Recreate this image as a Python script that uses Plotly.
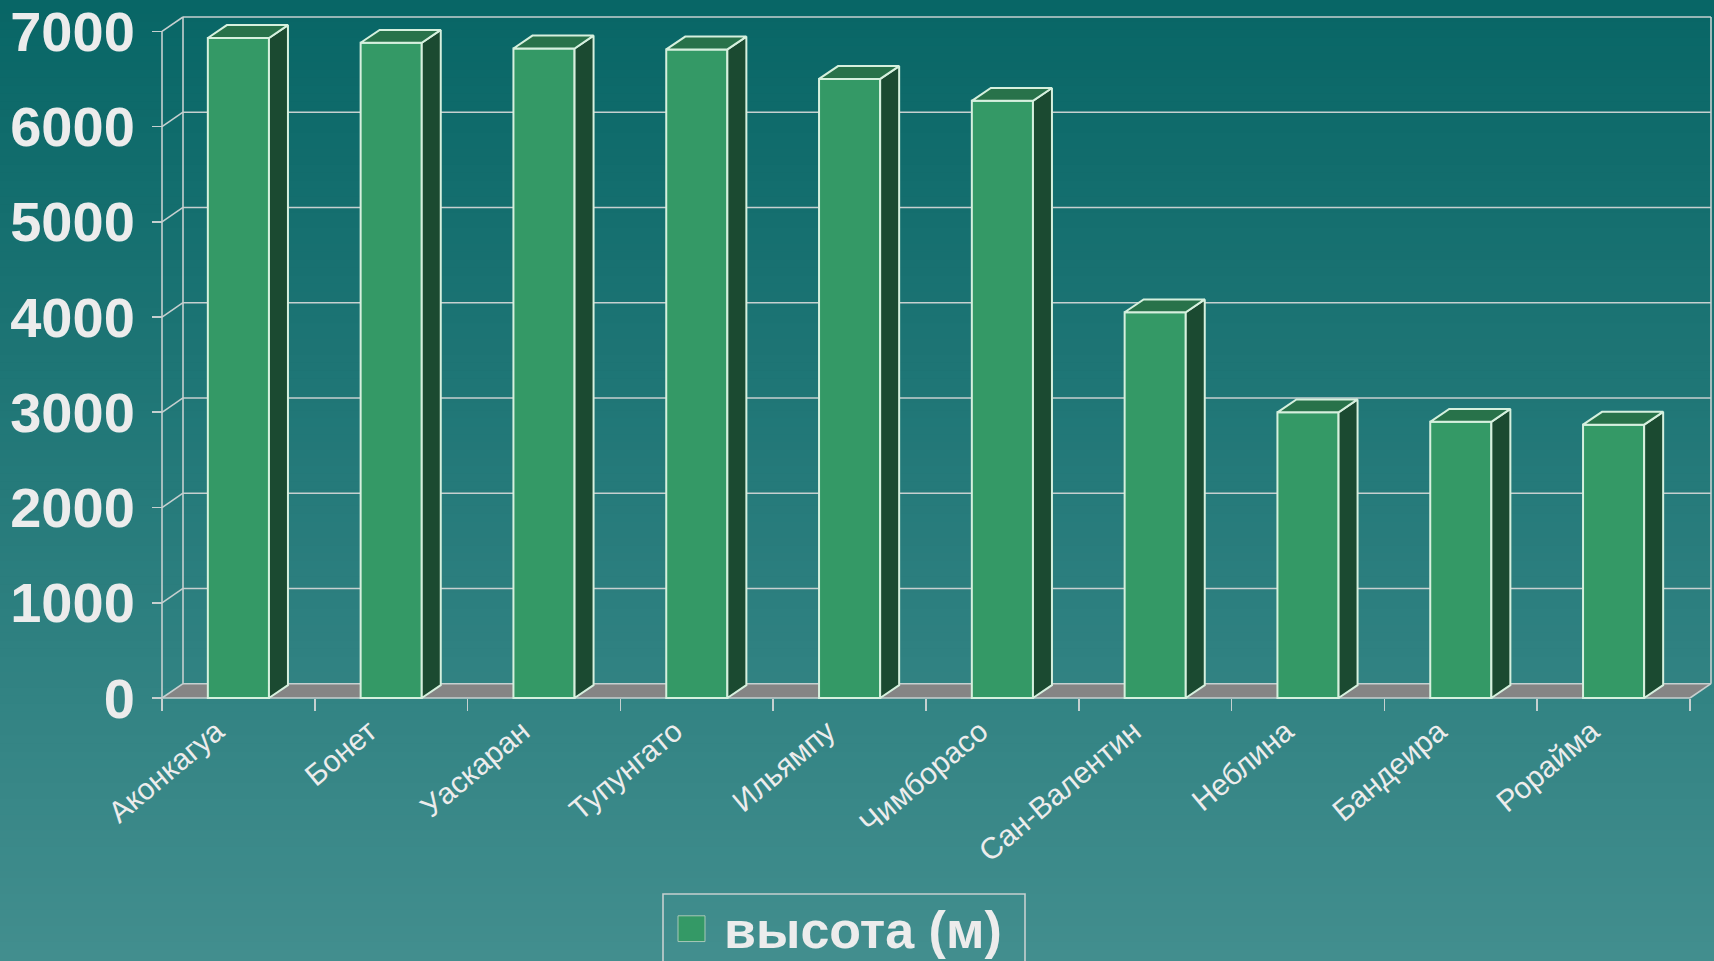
import plotly.graph_objects as go

# ---------------- data ----------------
peaks = ["Аконкагуа", "Бонет", "Уаскаран", "Тупунгато", "Ильямпу",
         "Чимборасо", "Сан-Валентин", "Неблина", "Бандеира", "Рорайма"]
heights = [6930, 6880, 6820, 6810, 6500, 6270, 4050, 3000, 2900, 2870]
y_ticks = [0, 1000, 2000, 3000, 4000, 5000, 6000, 7000]
series_name = "высота (м)"

# ---------------- geometry / style ----------------
W, H = 1714, 961
PAD = 3                       # px padding around the 3D box inside plot area
L, R, T, B = 162 - PAD, 0, 10 - PAD, 263 - PAD
plot_w = W - L - R
plot_h = H - T - B

n = len(peaks)
ymax = y_ticks[-1]
wall_dx_px, wall_dy_px = 21, 14.5
bar_dx_px, bar_dy_px = 19, 13

ux = (plot_w - 2 * PAD - wall_dx_px) / n        # px per category
uy = (plot_h - 2 * PAD - wall_dy_px) / ymax     # px per unit value
xpad, ypad = PAD / ux, PAD / uy
wdx, wdy = wall_dx_px / ux, wall_dy_px / uy
bdx, bdy = bar_dx_px / ux, bar_dy_px / uy
x_range = [-xpad, n + wdx + xpad]
y_range = [-ypad, ymax + wdy + ypad]
label_shift = 22 / ux          # rotated labels end slightly left of centre

FONT = "Liberation Sans, Arial, sans-serif"
TXT = "#ececec"
WALL_LINE = "#c6d0d0"
BAR_LINE = "#d6f0de"
FRONT = "#349966"
SIDE = "#1b4a31"
TOP = "#28724a"
FLOOR = "#858585"


def xp(px):
    return (px - L) / plot_w


def yp(py):
    return (H - B - py) / plot_h


shapes = []

# background vertical gradient
top_c = (8, 102, 102)
bot_c = (66, 142, 142)
bands = 120
for k in range(bands):
    t = (k + 0.5) / bands
    c = tuple(round(a + (b - a) * t) for a, b in zip(top_c, bot_c))
    y0 = H * k / bands - (12 if k == 0 else 1)
    y1 = H * (k + 1) / bands + (12 if k == bands - 1 else 1)
    shapes.append(dict(type="rect", xref="paper", yref="paper",
                       x0=xp(-12), x1=xp(W + 12), y0=yp(y1), y1=yp(y0),
                       fillcolor="rgb(%d,%d,%d)" % c, line=dict(width=0),
                       layer="below"))


def path(pts):
    return "M " + " L ".join("%.5f,%.5f" % p for p in pts) + " Z"


def seg(x0, y0, x1, y1, color=WALL_LINE, w=1.6):
    shapes.append(dict(type="line", xref="x", yref="y", x0=x0, y0=y0,
                       x1=x1, y1=y1, line=dict(color=color, width=w),
                       layer="below"))


# floor
shapes.append(dict(type="path", xref="x", yref="y",
                   path=path([(0, 0), (n, 0), (n + wdx, wdy), (wdx, wdy)]),
                   fillcolor=FLOOR, line=dict(width=0), layer="below"))
# back wall gridlines and side connectors
for v in y_ticks:
    seg(wdx, v + wdy, n + wdx, v + wdy)
    seg(0, v, wdx, v + wdy)
# back wall verticals
seg(wdx, wdy, wdx, ymax + wdy)
seg(n + wdx, wdy, n + wdx, ymax + wdy)
# front edges
seg(0, 0, 0, ymax)
seg(0, 0, n, 0)
seg(n, 0, n + wdx, wdy)

# ---------------- traces ----------------
centers = [i + 0.5 for i in range(n)]
hw = 0.2
fig = go.Figure()
fig.add_trace(go.Bar(x=centers, y=heights, width=2 * hw, name=series_name,
                     marker=dict(color=FRONT, line=dict(color=BAR_LINE, width=2)),
                     showlegend=False, hoverinfo="skip"))
for xc, v in zip(centers, heights):
    side = [(xc + hw, 0), (xc + hw + bdx, bdy), (xc + hw + bdx, v + bdy),
            (xc + hw, v), (xc + hw, 0)]
    top = [(xc - hw, v), (xc - hw + bdx, v + bdy), (xc + hw + bdx, v + bdy),
           (xc + hw, v), (xc - hw, v)]
    for pts, col in ((side, SIDE), (top, TOP)):
        fig.add_trace(go.Scatter(x=[p[0] for p in pts], y=[p[1] for p in pts],
                                 mode="lines", fill="toself", fillcolor=col,
                                 line=dict(color=BAR_LINE, width=2),
                                 showlegend=False, hoverinfo="skip"))
# invisible trace to host tick-mark axis
fig.add_trace(go.Scatter(x=[0], y=[0], xaxis="x2", mode="markers",
                         marker=dict(opacity=0), showlegend=False,
                         hoverinfo="skip"))

# ---------------- manual legend ----------------
shapes.append(dict(type="rect", xref="paper", yref="paper",
                   x0=xp(663), x1=xp(1025), y0=yp(975), y1=yp(896),
                   line=dict(color=WALL_LINE, width=1.6), fillcolor="rgba(0,0,0,0)"))
shapes.append(dict(type="rect", xref="paper", yref="paper",
                   x0=xp(678), x1=xp(705), y0=yp(944), y1=yp(918),
                   line=dict(color="#a8c8b8", width=1), fillcolor=FRONT))

annotations = [dict(text=series_name, xref="paper", yref="paper",
                    x=xp(722), y=yp(932), xanchor="left", yanchor="middle",
                    showarrow=False,
                    font=dict(family=FONT, size=52, color=TXT, weight="bold"))]

fig.update_layout(
    width=W, height=H,
    margin=dict(l=L, r=R, t=T, b=B, pad=0),
    paper_bgcolor="rgb(37,122,122)",
    plot_bgcolor="rgba(0,0,0,0)",
    shapes=shapes, annotations=annotations,
    showlegend=False, bargap=0,
    xaxis=dict(range=x_range, tickmode="array",
               tickvals=[c - label_shift for c in centers], ticktext=peaks,
               tickangle=-40, ticks="", showgrid=False, zeroline=False,
               showline=False, anchor="free", position=yp(698),
               ticklabelstandoff=9, ticklabeloverflow="allow",
               tickfont=dict(family=FONT, size=30, color=TXT),
               fixedrange=True),
    xaxis2=dict(range=x_range, overlaying="x", tickmode="array",
                tickvals=list(range(n + 1)), showticklabels=False,
                ticks="outside", ticklen=12, tickwidth=1.6, tickcolor=WALL_LINE,
                showgrid=False, zeroline=False, showline=False,
                anchor="free", position=yp(698), side="bottom"),
    yaxis=dict(range=y_range, tickmode="array", tickvals=y_ticks,
               ticks="outside", ticklen=10, tickwidth=1.6, tickcolor=WALL_LINE,
               showgrid=False, zeroline=False, showline=False,
               anchor="free", position=xp(162), ticklabelstandoff=6,
               ticklabeloverflow="allow",
               tickfont=dict(family=FONT, size=56, color=TXT, weight="bold"),
               fixedrange=True),
)

fig.write_html("out.html",
               config={"displayModeBar": False, "staticPlot": True},
               post_script="document.body.style.margin='0';"
                           "document.body.style.overflow='hidden';"
                           "document.body.style.background='rgb(66,142,142)';")
